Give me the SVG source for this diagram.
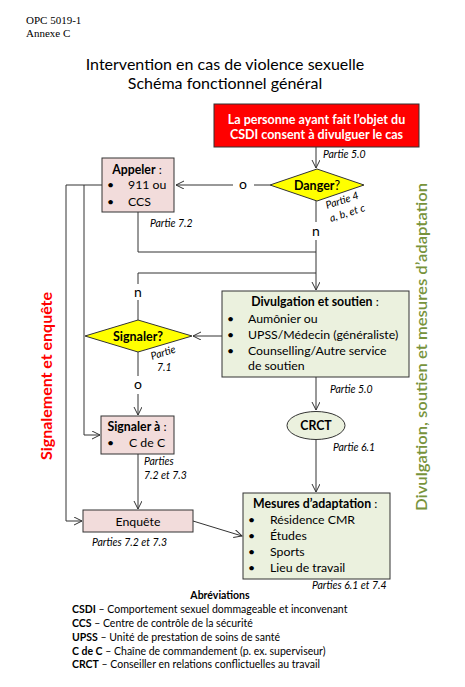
<svg xmlns="http://www.w3.org/2000/svg" width="465" height="687" viewBox="0 0 465 687">
<defs>
<marker id="arr" markerWidth="10" markerHeight="10" refX="8" refY="4" orient="auto" markerUnits="userSpaceOnUse">
<path d="M0,0 L8,4 L0,8" fill="none" stroke="#333" stroke-width="1"/>
</marker>
<style>
.t{font-family:Lato,"Open Sans","DejaVu Sans",sans-serif;fill:#000}
.b{font-weight:bold}
.n{font-weight:normal}
.i{font-style:italic;font-size:10.5px}
.body{font-size:12.3px}
.pink{fill:#F2DCDB;stroke:#333;stroke-width:1}
.green{fill:#EBF1DE;stroke:#333;stroke-width:1}
.yel{fill:#FFFF00;stroke:#333;stroke-width:1}
.ln{fill:none;stroke:#333;stroke-width:1}
.serif{font-family:"Liberation Serif","Times New Roman",serif;font-size:11px;fill:#000}
</style>
</defs>
<rect width="465" height="687" fill="#fff"/>
<g id="header">
<text class="serif" x="26" y="24">OPC 5019-1</text>
<text class="serif" x="26" y="37">Annexe C</text>
<text class="t" x="225" y="69.5" font-size="16" text-anchor="middle">Intervention en cas de violence sexuelle</text>
<text class="t" x="225" y="89" font-size="16" text-anchor="middle">Schéma fonctionnel général</text>
</g>
<g id="connectors">
<path class="ln" d="M316,147 V168" marker-end="url(#arr)"/>
<path class="ln" d="M270,185 H254"/>
<path class="ln" d="M233,185 H176" marker-end="url(#arr)"/>
<path class="ln" d="M316,201 V222"/>
<path class="ln" d="M316,240 V290" marker-end="url(#arr)"/>
<path class="ln" d="M138,212 V252 H316"/>
<path class="ln" d="M138,320 V300"/>
<path class="ln" d="M138,284 V273 H316"/>
<path class="ln" d="M222,336 H193" marker-end="url(#arr)"/>
<path class="ln" d="M138,352 V376"/>
<path class="ln" d="M138,394 V415" marker-end="url(#arr)"/>
<path class="ln" d="M102,185 H66 V521 H82" marker-end="url(#arr)"/>
<path class="ln" d="M84,185 V435 H100" marker-end="url(#arr)"/>
<path class="ln" d="M138,454 V509" marker-end="url(#arr)"/>
<path class="ln" d="M316,377 V410" marker-end="url(#arr)"/>
<path class="ln" d="M316,439 V492" marker-end="url(#arr)"/>
<path class="ln" d="M193,521 L242,536" marker-end="url(#arr)"/>
<text class="t" x="243" y="189" font-size="14" text-anchor="middle">o</text>
<text class="t" x="316" y="236" font-size="14" text-anchor="middle">n</text>
<text class="t" x="138" y="297" font-size="14" text-anchor="middle">n</text>
<text class="t" x="138" y="389" font-size="14" text-anchor="middle">o</text>
<text class="t i" x="323" y="158">Partie 5.0</text>
<text class="t i" x="150" y="227">Partie 7.2</text>
<text class="t i" transform="translate(327,209) rotate(-18)">Partie 4</text>
<text class="t i" transform="translate(331,222) rotate(-18)">a, b, et c</text>
<text class="t i" transform="translate(152,360) rotate(-18)">Partie</text>
<text class="t i" x="157" y="371">7.1</text>
<text class="t i" x="330" y="393">Partie 5.0</text>
<text class="t i" x="333" y="451">Partie 6.1</text>
<text class="t i" x="144" y="465">Parties</text>
<text class="t i" x="144" y="479">7.2 et 7.3</text>
<text class="t i" x="92" y="546">Parties 7.2 et 7.3</text>
<text class="t i" x="312" y="589">Parties 6.1 et 7.4</text>
</g>
<g id="n-start">
<rect x="214" y="104" width="205" height="43" fill="#FF0000" stroke="#333"/>
<text class="t b" x="316.5" y="123.5" font-size="12.5" text-anchor="middle" style="fill:#fff">La personne ayant fait l’objet du</text>
<text class="t b" x="316.5" y="138.5" font-size="12.5" text-anchor="middle" style="fill:#fff">CSDI consent à divulguer le cas</text>
</g>
<g id="n-danger">
<polygon class="yel" points="270,185 317,169 364,185 317,201"/>
<text class="t b" x="317" y="189.5" font-size="12.5" text-anchor="middle">Danger<tspan class="n">?</tspan></text>
</g>
<g id="n-appeler">
<rect class="pink" x="102" y="158" width="72" height="54"/>
<text class="t b body" x="137" y="174" text-anchor="middle">Appeler<tspan class="n"> :</tspan></text>
<text class="t body" x="107" y="189">•</text>
<text class="t body" x="128" y="189">911 ou</text>
<text class="t body" x="107" y="206">•</text>
<text class="t body" x="128" y="206">CCS</text>
</g>
<g id="n-divulgation">
<rect class="green" x="222" y="291" width="187" height="86"/>
<text class="t b body" x="315" y="306" text-anchor="middle">Divulgation et soutien<tspan class="n"> :</tspan></text>
<text class="t body" x="227" y="323">•</text>
<text class="t body" x="248" y="323">Aumônier ou</text>
<text class="t body" x="227" y="339">•</text>
<text class="t body" x="248" y="339">UPSS/Médecin (généraliste)</text>
<text class="t body" x="227" y="355">•</text>
<text class="t body" x="248" y="355">Counselling/Autre service</text>
<text class="t body" x="248" y="370">de soutien</text>
</g>
<g id="n-signaler">
<polygon class="yel" points="85,336 138,320 192,336 138,352"/>
<text class="t b" x="138" y="340.5" font-size="12.5" text-anchor="middle">Signaler?</text>
</g>
<g id="n-signalera">
<rect class="pink" x="101" y="416" width="73" height="38"/>
<text class="t b body" x="137" y="431" text-anchor="middle">Signaler à<tspan class="n"> :</tspan></text>
<text class="t body" x="107" y="447">•</text>
<text class="t body" x="129" y="447">C de C</text>
</g>
<g id="n-crct">
<ellipse class="green" cx="316" cy="425.5" rx="29" ry="14"/>
<text class="t b body" x="316" y="430" text-anchor="middle">CRCT</text>
</g>
<g id="n-enquete">
<rect class="pink" x="83" y="510" width="110" height="22"/>
<text class="t body" x="138" y="525.5" text-anchor="middle">Enquête</text>
</g>
<g id="n-mesures">
<rect class="green" x="243" y="493" width="147" height="86"/>
<text class="t b body" x="253" y="508">Mesures d’adaptation<tspan class="n"> :</tspan></text>
<text class="t body" x="248" y="524">•</text>
<text class="t body" x="270" y="524">Résidence CMR</text>
<text class="t body" x="248" y="540">•</text>
<text class="t body" x="270" y="540">Études</text>
<text class="t body" x="248" y="556">•</text>
<text class="t body" x="270" y="556">Sports</text>
<text class="t body" x="248" y="572">•</text>
<text class="t body" x="270" y="572">Lieu de travail</text>
</g>
<g id="side-labels">
<text class="t b" transform="translate(51.5,376) rotate(-90)" font-size="15.5" text-anchor="middle" style="fill:#FF0000" textLength="168" lengthAdjust="spacingAndGlyphs">Signalement et enquête</text>
<text class="t" transform="translate(426.5,347) rotate(-90)" font-size="16" font-weight="600" text-anchor="middle" style="fill:#77933C" textLength="328" lengthAdjust="spacingAndGlyphs">Divulgation, soutien et mesures d’adaptation</text>
</g>
<g id="abbreviations">
<text class="t b" x="220" y="599" font-size="10.5" text-anchor="middle">Abréviations</text>
<text class="t" x="72" y="613" font-size="10.5"><tspan font-weight="bold">CSDI</tspan> – Comportement sexuel dommageable et inconvenant</text>
<text class="t" x="72" y="626.5" font-size="10.5"><tspan font-weight="bold">CCS</tspan> – Centre de contrôle de la sécurité</text>
<text class="t" x="72" y="640.5" font-size="10.5"><tspan font-weight="bold">UPSS</tspan> – Unité de prestation de soins de santé</text>
<text class="t" x="72" y="654.5" font-size="10.5"><tspan font-weight="bold">C de C</tspan> – Chaîne de commandement (p. ex. superviseur)</text>
<text class="t" x="72" y="668" font-size="10.5"><tspan font-weight="bold">CRCT</tspan> – Conseiller en relations conflictuelles au travail</text>
</g>
</svg>
